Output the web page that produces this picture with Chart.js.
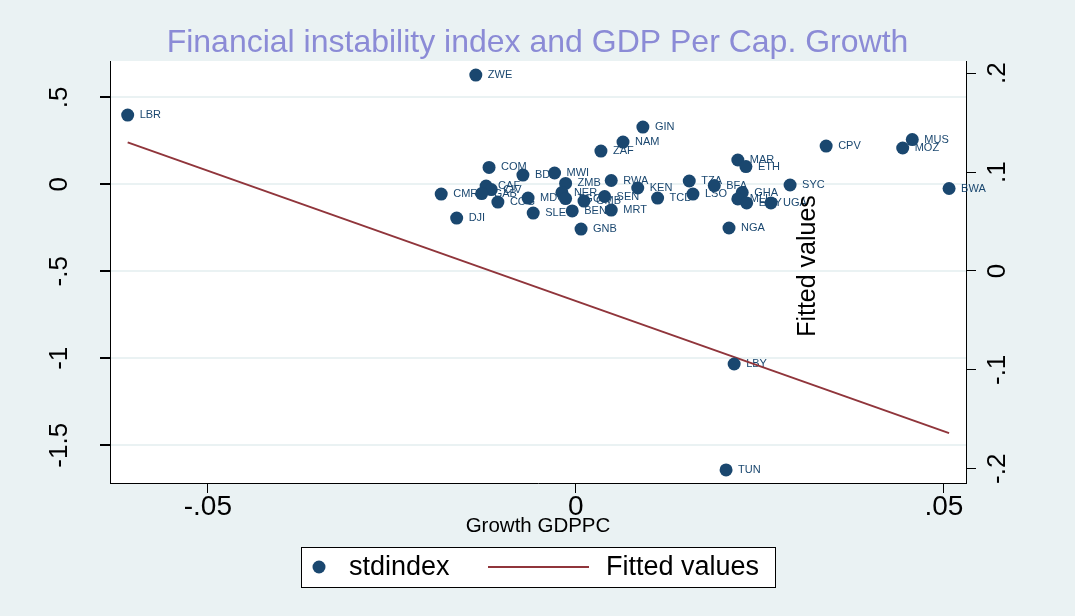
<!DOCTYPE html>
<html>
<head>
<meta charset="utf-8">
<script src="https://cdn.jsdelivr.net/npm/chart.js@4/dist/chart.umd.min.js"></script>
<style>
  html, body { margin: 0; padding: 0; background: #eaf2f3; }
  canvas { display: block; }
</style>
</head>
<body>
<canvas id="fig" width="1075" height="616"></canvas>
<script>
// country codes, growth of GDP per capita (x) and the standardised index (left axis)
const codes = ['LBR', 'ZWE', 'GIN', 'NAM', 'ZAF', 'COM', 'BDI', 'MWI', 'ZMB', 'CAF', 'CIV', 'GAB',
  'CMR', 'COG', 'MDG', 'NER', 'TGO', 'GMB', 'SEN', 'SLE', 'BEN', 'MRT', 'DJI', 'GNB', 'RWA', 'KEN',
  'TCD', 'TZA', 'LSO', 'BFA', 'GHA', 'MLI', 'EGY', 'UGA', 'SYC', 'MAR', 'ETH', 'CPV', 'MUS', 'MOZ',
  'BWA', 'NGA', 'LBY', 'TUN'];
const growth = [-0.0609, -0.0136, 0.0091, 0.0064, 0.0034, -0.0118, -0.0072, -0.0029, -0.0014, -0.0122,
  -0.0115, -0.0128, -0.0183, -0.0106, -0.0065, -0.0019, -0.0014, 0.0011, 0.0039, -0.0058, -0.0005,
  0.0048, -0.0162, 0.0007, 0.0048, 0.0084, 0.0111, 0.0154, 0.0159, 0.0188, 0.0226, 0.0220, 0.0232,
  0.0265, 0.0291, 0.0220, 0.0231, 0.0340, 0.0457, 0.0444, 0.0507, 0.0208, 0.0215, 0.0204];
const stdindex = [0.398, 0.628, 0.329, 0.243, 0.191, 0.097, 0.053, 0.065, 0.005, -0.010, -0.030, -0.053,
  -0.056, -0.102, -0.079, -0.047, -0.082, -0.096, -0.070, -0.165, -0.153, -0.148, -0.194, -0.257,
  0.022, -0.021, -0.079, 0.019, -0.056, -0.007, -0.047, -0.084, -0.107, -0.107, -0.004, 0.140,
  0.102, 0.220, 0.257, 0.209, -0.024, -0.251, -1.033, -1.642];

// fitted line (right axis), read at its two ends
const fitGrowth = [-0.0609, 0.0507];
const fitValues = [0.130, -0.164];

const xTicks = [-0.05, 0, 0.05];
const yTicks = [-1.5, -1, -0.5, 0, 0.5];
const y1Ticks = [-0.2, -0.1, 0, 0.1, 0.2];

const FONT = "'Liberation Sans', Arial, Helvetica, sans-serif";
const NAVY = '#1a476f';
const MAROON = '#90353b';
const BG = '#eaf2f3';

// stata style numbers: .5, -.05
const stataFmt = v => String(+v.toFixed(4)).replace(/^(-?)0\./, '$1.');
const fixTicks = list => scale => { scale.ticks = list.map(v => ({ value: v })); };

const backdrop = {
  id: 'backdrop',
  beforeDraw(chart) {
    const { ctx, chartArea: a } = chart;
    ctx.save();
    ctx.fillStyle = BG;
    ctx.fillRect(0, 0, chart.width, chart.height);
    ctx.fillStyle = '#ffffff';
    ctx.fillRect(a.left, a.top, a.right - a.left, a.bottom - a.top);
    ctx.restore();
  }
};

const pointLabels = {
  id: 'pointLabels',
  beforeDatasetsDraw(chart) {
    const { ctx } = chart;
    const meta = chart.getDatasetMeta(0);
    ctx.save();
    ctx.font = '11px ' + FONT;
    ctx.fillStyle = NAVY;
    ctx.textBaseline = 'middle';
    ctx.textAlign = 'left';
    meta.data.forEach((pt, i) => ctx.fillText(codes[i], pt.x + 12, pt.y));
    ctx.restore();
  }
};

const extras = {
  id: 'extras',
  afterDraw(chart) {
    const { ctx, chartArea: a } = chart;
    ctx.save();
    // right axis title, which stata put inside the plot
    ctx.translate(a.right - 151, a.top + 205);
    ctx.rotate(-Math.PI / 2);
    ctx.font = '25px ' + FONT;
    ctx.fillStyle = '#000';
    ctx.textAlign = 'center';
    ctx.textBaseline = 'alphabetic';
    ctx.fillText('Fitted values', 0, 0);
    ctx.restore();

    // legend box
    const cx = (a.left + a.right) / 2;
    const bx = cx - 237, by = a.bottom + 64, bw = 474, bh = 40;
    const my = by + bh / 2;
    ctx.save();
    ctx.fillStyle = '#fff';
    ctx.fillRect(bx, by, bw, bh);
    ctx.strokeStyle = '#000';
    ctx.lineWidth = 1;
    ctx.strokeRect(bx + 0.5, by + 0.5, bw, bh);
    ctx.fillStyle = NAVY;
    ctx.beginPath();
    ctx.arc(bx + 18, my, 6.5, 0, Math.PI * 2);
    ctx.fill();
    ctx.strokeStyle = MAROON;
    ctx.lineWidth = 2;
    ctx.beginPath();
    ctx.moveTo(bx + 187, my);
    ctx.lineTo(bx + 288, my);
    ctx.stroke();
    ctx.font = '27px ' + FONT;
    ctx.fillStyle = '#000';
    ctx.textBaseline = 'middle';
    ctx.fillText('stdindex', bx + 48, my + 1);
    ctx.fillText('Fitted values', bx + 305, my + 1);
    ctx.restore();
  }
};

new Chart(document.getElementById('fig'), {
  type: 'scatter',
  data: {
    datasets: [
      {
        label: 'stdindex',
        data: growth.map((g, i) => ({ x: g, y: stdindex[i] })),
        yAxisID: 'y',
        backgroundColor: NAVY,
        borderWidth: 0,
        pointRadius: 6.5,
        order: 0
      },
      {
        label: 'Fitted values',
        data: fitGrowth.map((g, i) => ({ x: g, y: fitValues[i] })),
        yAxisID: 'y1',
        showLine: true,
        borderColor: MAROON,
        borderWidth: 2,
        pointRadius: 0,
        order: 1
      }
    ]
  },
  options: {
    responsive: false,
    animation: false,
    layout: { padding: { left: 0, right: 0, top: 0, bottom: 73 } },
    scales: {
      x: {
        type: 'linear',
        min: -0.0633,
        max: 0.0530,
        afterBuildTicks: fixTicks(xTicks),
        afterFit: s => { s.height = 60; },
        border: { display: true, color: '#000', width: 1 },
        grid: { drawOnChartArea: false, tickLength: 10, tickColor: '#000' },
        ticks: { color: '#000', padding: 0, font: { family: FONT, size: 28, lineHeight: 1 }, callback: stataFmt },
        title: { display: true, text: 'Growth GDPPC', color: '#000', font: { family: FONT, size: 20.5 }, padding: { top: 0, bottom: 4 } }
      },
      y: {
        type: 'linear',
        position: 'left',
        min: -1.717,
        max: 0.709,
        afterBuildTicks: fixTicks(yTicks),
        afterFit: s => { s.width = 110; },
        border: { display: true, color: '#000', width: 1 },
        grid: { color: BG, lineWidth: 2, tickLength: 10, tickColor: '#000' },
        ticks: { color: '#000', minRotation: 90, maxRotation: 90, crossAlign: 'center', padding: 18,
          font: { family: FONT, size: 26 }, callback: stataFmt }
      },
      y1: {
        type: 'linear',
        position: 'right',
        min: -0.2144,
        max: 0.2123,
        afterBuildTicks: fixTicks(y1Ticks),
        afterFit: s => { s.width = 109; },
        border: { display: true, color: '#000', width: 1 },
        grid: { drawOnChartArea: false, tickLength: 10, tickColor: '#000' },
        ticks: { color: '#000', minRotation: 90, maxRotation: 90, crossAlign: 'center', padding: 7,
          font: { family: FONT, size: 26 }, callback: stataFmt }
      }
    },
    plugins: {
      legend: { display: false },
      tooltip: { enabled: false },
      title: {
        display: true,
        text: 'Financial instability index and GDP Per Cap. Growth',
        color: '#8b8bd6',
        font: { family: FONT, size: 32, weight: 'normal', lineHeight: 1 },
        padding: { top: 27, bottom: 2 }
      }
    }
  },
  plugins: [backdrop, pointLabels, extras]
});
</script>
</body>
</html>
